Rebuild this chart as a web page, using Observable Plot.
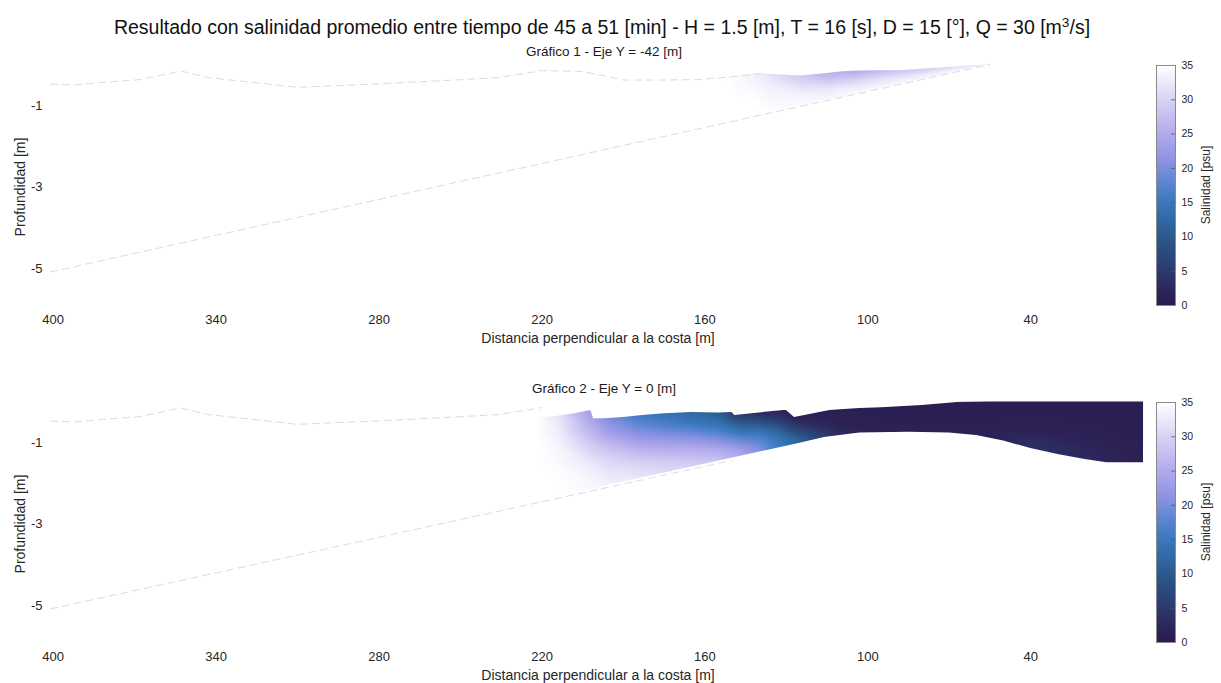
<!DOCTYPE html>
<html><head><meta charset="utf-8">
<script src="https://cdn.jsdelivr.net/npm/d3@7"></script>
<script src="https://cdn.jsdelivr.net/npm/@observablehq/plot@0.6"></script>
<style>
body{margin:0;background:#fff;font-family:"Liberation Sans",Arial,sans-serif;}
#root{position:relative;width:1221px;height:683px;overflow:hidden;background:#fff;}
.abs{position:absolute;white-space:nowrap;color:#262626;line-height:1.15;}
</style></head><body><div id="root"></div>
<script>
// ---------- data ----------
const titleText = 'Resultado con salinidad promedio entre tiempo de 45 a 51 [min] - H = 1.5 [m], T = 16 [s], D = 15 [°], Q = 30 [m<sup style="font-size:0.7em;vertical-align:0.55em;line-height:0">3</sup>/s]';
const panelTitles = ["Gráfico 1 - Eje Y = -42 [m]", "Gráfico 2 - Eje Y = 0 [m]"];
const xLabel = "Distancia perpendicular a la costa [m]";
const yLabel = "Profundidad [m]";
const cbLabel = "Salinidad [psu]";

const xTicks = [400, 340, 280, 220, 160, 100, 40];
const yTicks = [-1, -3, -5];
const cbTicks = [0, 5, 10, 15, 20, 25, 30, 35];

// colormap stops (salinity -> colour)
const colorStops = [0, 2, 5, 8, 11, 15, 18, 21, 25, 30, 35];
const colorHex = ["#2b1a4e", "#2c2559", "#2c3a6d", "#2b4c80", "#2d6096", "#3b78bd", "#5d86d2", "#8a92e2", "#b2aaec", "#d8d3f5", "#ffffff"];

// beach profile (bottom) and mean free surface (faint dashed outlines)
const beachX = [401, 55];
const beachD = [-5.08, 0];
const surfX = [401, 392, 380, 368, 353, 343, 325, 310, 286, 270, 255, 236, 220, 205, 190, 175, 162, 150, 139];
const surfD = [-0.48, -0.5, -0.43, -0.37, -0.16, -0.32, -0.45, -0.56, -0.49, -0.44, -0.39, -0.32, -0.15, -0.17, -0.38, -0.38, -0.37, -0.3, -0.22];

// sigma levels (fraction of water column from surface to bottom)
const sigma = [0, 0.2, 0.4, 0.6, 0.8, 1];

// ---- Panel 1 (Y = -42 m) ----
const p1ColX = [152, 143, 135, 125, 115, 105, 95, 85, 72, 60];
const p1ColTop = [-0.3, -0.23, -0.24, -0.28, -0.22, -0.16, -0.15, -0.14, -0.08, -0.03];
const p1ColBot = [-1.42, -1.29, -1.17, -1.02, -0.88, -0.73, -0.59, -0.44, -0.25, -0.07];
const p1Sal = [
  [35, 35, 35, 35, 35, 35],
  [33.5, 34, 34.5, 35, 35, 35],
  [31.5, 32.5, 33.5, 34, 34.5, 35],
  [29, 30.5, 32, 33.5, 34, 34.5],
  [26, 28, 30.5, 32.5, 33.5, 34.5],
  [25, 27.5, 30, 32, 33.5, 34.5],
  [27, 29, 31, 32.5, 33.5, 34.5],
  [28.5, 30, 31.5, 32.5, 33.5, 34.5],
  [30.5, 31.5, 32.5, 33, 34, 34.5],
  [32, 32.5, 33, 33.5, 34, 34.5]
];
const p1TopX = [152, 140, 133, 125, 115, 110, 103, 88, 70, 55, -5];
const p1TopD = [-0.3, -0.22, -0.25, -0.28, -0.22, -0.18, -0.15, -0.15, -0.07, 0, 0];
const p1BotX = [152, 55, -5];
const p1BotD = [-1.42, 0, 0];

// ---- Panel 2 (Y = 0 m) ----
const p2ColX = [222, 214, 205, 195, 185, 175, 165, 155, 147, 140, 133, 126, 119, 110, 95, 75, 55, 40, 25, 10, -1.5];
const p2ColTop = [-0.4, -0.35, -0.25, -0.41, -0.36, -0.3, -0.27, -0.28, -0.32, -0.27, -0.22, -0.36, -0.27, -0.2, -0.15, -0.08, 0, 0, 0, 0, 0];
const p2ColBot = [-2.44, -2.32, -2.19, -2.05, -1.9, -1.76, -1.61, -1.46, -1.35, -1.24, -1.13, -1.03, -0.92, -0.83, -0.76, -0.76, -0.9, -1.15, -1.37, -1.5, -1.5];
const p2Sal = [
  [35, 35, 35, 35, 35, 35],
  [32, 33, 34, 34.5, 35, 35],
  [25, 27.5, 30, 32.5, 34, 34.5],
  [20, 23, 27, 30, 32, 33.5],
  [16, 19.5, 23.5, 27.5, 30.5, 32.5],
  [14, 17, 21.5, 25.5, 29, 31],
  [12.5, 15, 19.5, 24, 27.5, 30],
  [10.5, 13.5, 17, 21.5, 25.5, 28],
  [5, 10, 14, 18.5, 22.5, 25],
  [2.5, 7.5, 12.5, 16, 19, 21],
  [1.8, 4.5, 8.5, 12.5, 14.5, 15.5],
  [1.3, 2.8, 5, 8, 11, 12],
  [1, 1.5, 2.5, 4, 6, 7],
  [0.8, 1, 1, 1.5, 2, 3],
  [0.8, 0.8, 0.8, 1, 1, 1.5],
  [0.8, 0.8, 0.8, 0.8, 1, 1],
  [0.8, 0.8, 0.8, 1, 1.5, 1.5],
  [0.8, 0.8, 1, 1.5, 3, 3.5],
  [0.8, 0.8, 1, 1.5, 2.5, 3],
  [0.8, 0.8, 0.8, 1, 1.5, 2],
  [0.8, 0.8, 0.8, 0.8, 1, 1]
];
const p2TopX = [222, 216, 208, 202, 201, 197, 190, 183, 175, 165, 155, 150, 149, 140, 131, 130, 127, 120, 114, 110, 103, 95, 80, 66, 55, -5];
const p2TopD = [-0.4, -0.38, -0.3, -0.22, -0.42, -0.42, -0.39, -0.34, -0.3, -0.27, -0.28, -0.27, -0.34, -0.28, -0.22, -0.22, -0.39, -0.3, -0.22, -0.2, -0.17, -0.15, -0.1, -0.02, 0, 0];
const p2BotX = [222, 125, 116, 103, 85, 70, 60, 50, 40, 30, 20, 12, -1.5, -1.55, -5];
const p2BotD = [-2.44, -1.02, -0.88, -0.77, -0.75, -0.77, -0.83, -0.97, -1.15, -1.3, -1.42, -1.5, -1.5, 0, 0];
const p2BeachX = [401, 150];
const p2BeachD = [-5.08, -1.44];

// ---------- layout ----------
const root = document.getElementById("root");
const FR = {left: 50, right: 1143, h: 245};
const panelTops = [64, 401];
const colorOpts = {type: "linear", domain: colorStops, range: colorHex, clamp: true};
const fontFam = '"Liberation Sans", Arial, Helvetica, sans-serif';

function div(html, css) {
  const d = document.createElement("div");
  d.className = "abs";
  d.innerHTML = html;
  Object.assign(d.style, css);
  root.appendChild(d);
  return d;
}
const zip = (X, Y) => X.map((x, i) => ({x, y: Y[i]}));
function fieldPoints(colX, colTop, colBot, S) {
  const pts = [];
  colX.forEach((x, i) => sigma.forEach((s, k) => pts.push({x, y: colTop[i] + s * (colBot[i] - colTop[i]), v: S[i][k]})));
  return pts;
}

function panel(cfg) {
  const mt = 10, mb = 30;
  const dash = {stroke: "#cfcfcf", strokeWidth: 0.75, strokeDasharray: "7,5"};
  const svg = Plot.plot({
    width: 1221, height: mt + FR.h + mb,
    marginLeft: FR.left, marginRight: 1221 - FR.right, marginTop: mt, marginBottom: mb,
    x: {domain: [401, -1.5], axis: null},
    y: {domain: [-6, 0], axis: null},
    color: colorOpts,
    style: {background: "transparent", fontFamily: fontFam, fontSize: "13px", color: "#262626", overflow: "visible"},
    marks: [
      Plot.raster(cfg.points, {x: "x", y: "y", fill: "v", interpolate: "barycentric", x1: cfg.rx[0], x2: cfg.rx[1], y1: cfg.ry[0], y2: cfg.ry[1]}),
      Plot.areaY(cfg.top, {x: "x", y1: "y", y2: 0.1, fill: "white"}),
      Plot.areaY(cfg.bot, {x: "x", y1: "y", y2: -6, fill: "white"}),
      Plot.line(cfg.surf, {x: "x", y: "y", ...dash}),
      Plot.line(cfg.beach, {x: "x", y: "y", ...dash}),
      Plot.axisX({ticks: xTicks, tickSize: 0, tickPadding: 5, tickFormat: d => String(d), label: null}),
      Plot.axisY({ticks: yTicks, tickSize: 0, tickPadding: 8, tickFormat: d => String(d), label: null})
    ]
  });
  Object.assign(svg.style, {position: "absolute", left: "0px", top: (cfg.top0 - mt) + "px"});
  root.appendChild(svg);

  // colorbar
  const cbH = 240, cmt = 6, cmb = 6;
  const cb = Plot.plot({
    width: 60, height: cbH + cmt + cmb,
    marginLeft: 1, marginRight: 40, marginTop: cmt, marginBottom: cmb,
    x: {domain: [0, 1], axis: null},
    y: {domain: [0, 35], axis: null},
    color: colorOpts,
    style: {background: "transparent", fontFamily: fontFam, fontSize: "10.5px", color: "#262626", overflow: "visible"},
    marks: [
      Plot.raster({x1: 0, x2: 1, y1: 0, y2: 35, fill: (x, y) => y}),
      Plot.ruleY(cbTicks.slice(1, -1), {x1: 0.8, x2: 1, stroke: "#555", strokeWidth: 0.8}),
      Plot.frame({stroke: "#8a8a8a"}),
      Plot.axisY({anchor: "right", ticks: cbTicks, tickSize: 0, tickPadding: 6, tickFormat: d => String(d), label: null})
    ]
  });
  Object.assign(cb.style, {position: "absolute", left: "1155px", top: (cfg.top0 + 1 - cmt) + "px"});
  root.appendChild(cb);

  div(cfg.title, {left: "604px", top: (cfg.top0 - 20) + "px", transform: "translateX(-50%)", fontSize: "13.5px", color: "#1a1a1a"});
  div(xLabel, {left: "598px", top: (cfg.top0 + FR.h + 21) + "px", transform: "translateX(-50%)", fontSize: "14px"});
  div(yLabel, {left: "20px", top: (cfg.top0 + FR.h / 2) + "px", transform: "translate(-50%,-50%) rotate(-90deg)", fontSize: "14px"});
  div(cbLabel, {left: "1207px", top: (cfg.top0 + 121) + "px", transform: "translate(-50%,-50%) rotate(-90deg)", fontSize: "12px"});
}

const surfPts = zip(surfX, surfD);
panel({
  top0: panelTops[0], title: panelTitles[0],
  points: fieldPoints(p1ColX, p1ColTop, p1ColBot, p1Sal),
  rx: [152, 50], ry: [-1.5, 0],
  top: zip(p1TopX, p1TopD), bot: zip(p1BotX, p1BotD),
  surf: surfPts, beach: zip(beachX, beachD)
});
panel({
  top0: panelTops[1], title: panelTitles[1],
  points: fieldPoints(p2ColX, p2ColTop, p2ColBot, p2Sal),
  rx: [222, -1.5], ry: [-2.5, 0],
  top: zip(p2TopX, p2TopD), bot: zip(p2BotX, p2BotD),
  surf: surfPts.filter(d => d.x >= 216), beach: zip(p2BeachX, p2BeachD)
});

div(titleText, {left: "602px", top: "16px", transform: "translateX(-50%)", fontSize: "19.5px", color: "#111"});
</script></body></html>
